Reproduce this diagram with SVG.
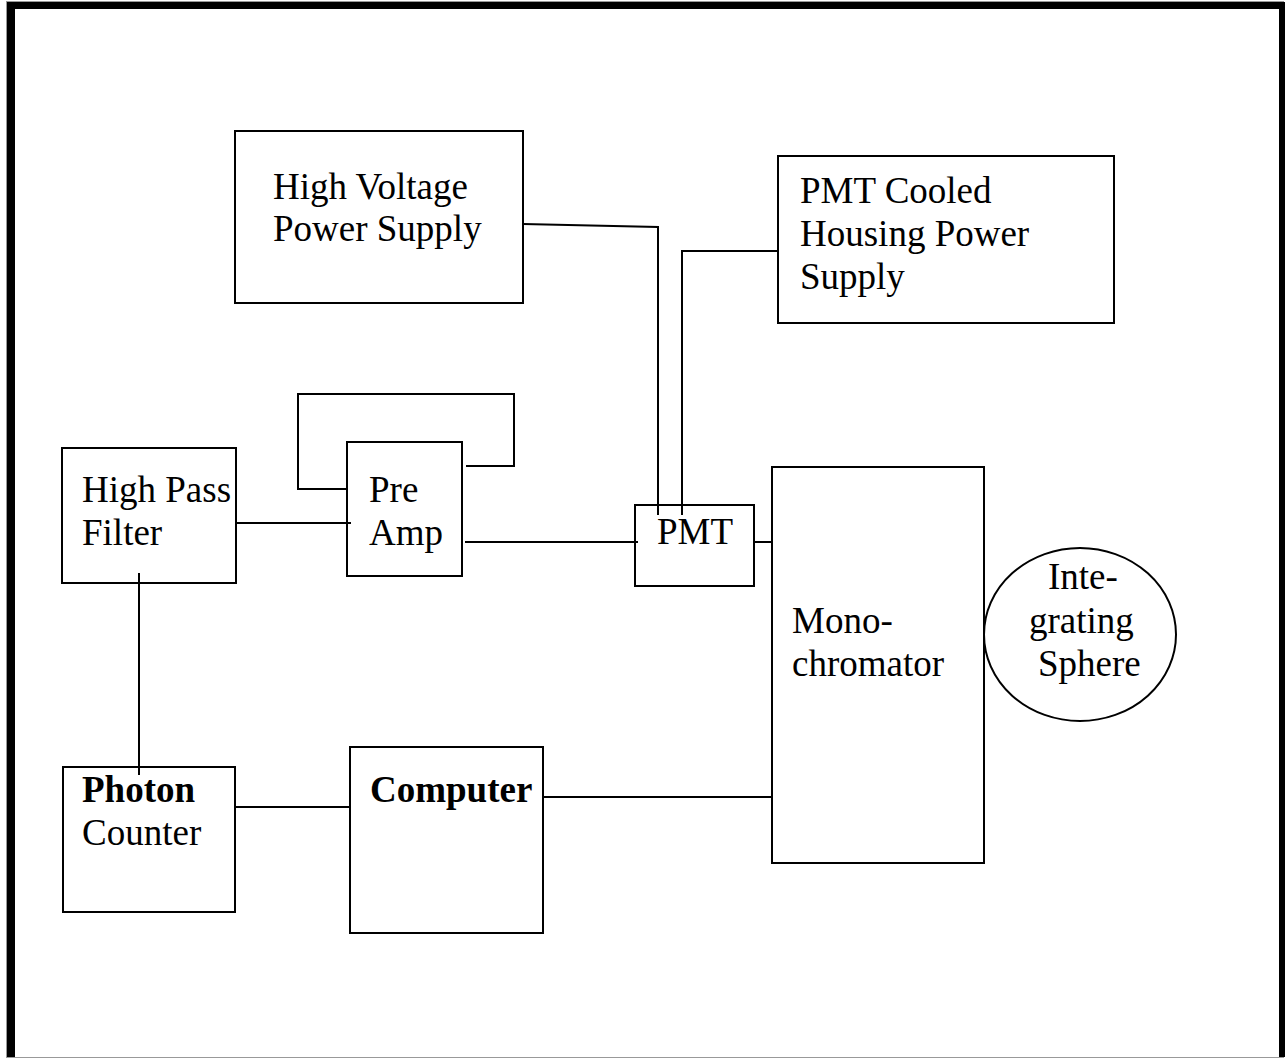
<svg xmlns="http://www.w3.org/2000/svg" width="1285" height="1059" viewBox="0 0 1285 1059">
<style>
.box{fill:none;stroke:#000;stroke-width:2}
.ln{fill:none;stroke:#000;stroke-width:2}
text{font-family:"Liberation Serif","Times New Roman",serif;font-size:37px;fill:#000}
.b{font-weight:bold}
</style>
<rect x="0" y="0" width="1285" height="1059" fill="#fff"/>
<g id="frame">
<rect x="6.5" y="1.5" width="1277" height="1056" fill="none" stroke="#999" stroke-width="1"/>
<line x1="11" y1="2" x2="11" y2="1057" stroke="#000" stroke-width="8"/>
<line x1="7" y1="5.5" x2="1285" y2="5.5" stroke="#000" stroke-width="7"/>
<line x1="1282" y1="2" x2="1282" y2="1057" stroke="#000" stroke-width="6"/>
</g>
<g id="connectors">
<line class="ln" x1="236" y1="523" x2="351" y2="523"/>
<polyline class="ln" points="347,489 298,489 298,394 514,394 514,466 466,466"/>
<line class="ln" x1="465" y1="542" x2="638" y2="542"/>
<line class="ln" x1="754" y1="542" x2="772" y2="542"/>
<polyline class="ln" points="523,224 658,227 658,515"/>
<polyline class="ln" points="778,251 682,251 682,515"/>
<line class="ln" x1="139" y1="573" x2="139" y2="775"/>
<line class="ln" x1="235" y1="807" x2="350" y2="807"/>
<line class="ln" x1="543" y1="797" x2="772" y2="797"/>
</g>
<g id="hv">
<rect class="box" x="235" y="131" width="288" height="172"/>
<text x="273" y="199">High Voltage</text>
<text x="273" y="241">Power Supply</text>
</g>
<g id="cooled">
<rect class="box" x="778" y="156" width="336" height="167"/>
<text x="800" y="203">PMT Cooled</text>
<text x="800" y="246">Housing Power</text>
<text x="800" y="289">Supply</text>
</g>
<g id="hpf">
<rect class="box" x="62" y="448" width="174" height="135"/>
<text x="82" y="502">High Pass</text>
<text x="82" y="545">Filter</text>
</g>
<g id="preamp">
<rect class="box" x="347" y="442" width="115" height="134"/>
<text x="369" y="502">Pre</text>
<text x="369" y="545">Amp</text>
</g>
<g id="pmt">
<rect class="box" x="635" y="505" width="119" height="81"/>
<text x="657" y="544">PMT</text>
</g>
<g id="mono">
<rect class="box" x="772" y="467" width="212" height="396"/>
<text x="792" y="633">Mono-</text>
<text x="792" y="676">chromator</text>
</g>
<g id="sphere">
<ellipse class="box" cx="1080" cy="634.5" rx="96" ry="86.5"/>
<text x="1048" y="589">Inte-</text>
<text x="1029" y="633">grating</text>
<text x="1038" y="676">Sphere</text>
</g>
<g id="photon">
<rect class="box" x="63" y="767" width="172" height="145"/>
<text x="82" y="802" class="b">Photon</text>
<text x="82" y="845">Counter</text>
</g>
<g id="computer">
<rect class="box" x="350" y="747" width="193" height="186"/>
<text x="370" y="802" class="b">Computer</text>
</g>
</svg>
